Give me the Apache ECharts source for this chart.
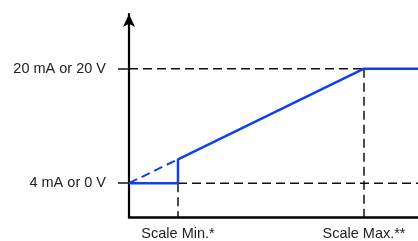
<!DOCTYPE html>
<html>
<head>
<meta charset="utf-8">
<script src="https://cdn.jsdelivr.net/npm/echarts@6/dist/echarts.min.js"></script>
<style>
  html, body { margin: 0; padding: 0; background: #fff; }
  #chart { width: 418px; height: 241px; }
</style>
</head>
<body>
<div id="chart"></div>
<script>
// levels on the y axis (mA-like units), positions on x in plain units
var levelLow = 4
var levelHigh = 20
var levelAtScaleMin = 7.34
var scaleMin = 49
var scaleMax = 235
var xEnd = 289
var yBottom = -0.73
var yTop = 27.65

var yTickValues = [levelLow, levelHigh]
var yTickLabels = ['4 mA or 0 V', '20 mA or 20 V']
var xTickValues = [scaleMin, scaleMax]
var xTickLabels = ['Scale Min.*', 'Scale Max.**']

// blue output curve
var outputLine = [[0, levelLow], [scaleMin, levelLow], [scaleMin, levelAtScaleMin], [scaleMax, levelHigh], [xEnd, levelHigh]]
var outputExtension = [[0, levelLow], [scaleMin, levelAtScaleMin]]

// black dashed guides
var guideHigh = [[0, levelHigh], [scaleMax, levelHigh]]
var guideLow = [[scaleMin, levelLow], [xEnd, levelLow]]
var guideMin = [[scaleMin, levelLow], [scaleMin, yBottom]]
var guideMax = [[scaleMax, levelHigh], [scaleMax, yBottom]]

var chart = echarts.init(document.getElementById('chart'))
var font = 'Liberation Sans, Arial, Helvetica, sans-serif'
var blue = '#1040ee'

function dashed(data) {
  return {
    type: 'line',
    data: data,
    symbol: 'none',
    silent: true,
    z: 1,
    lineStyle: { color: '#111', width: 1.5, type: [9, 5] }
  }
}

var option = {
  animation: false,
  grid: { left: 129, right: 0, top: 14, bottom: 23 },
  xAxis: {
    type: 'value',
    min: 0,
    max: xEnd,
    axisLine: { onZero: false, lineStyle: { color: '#000', width: 2.5 } },
    axisTick: { show: false },
    splitLine: { show: false },
    axisLabel: {
      customValues: xTickValues,
      formatter: function (v) { return xTickLabels[xTickValues.indexOf(v)] },
      color: '#222',
      fontSize: 14.5,
      fontFamily: font,
      margin: 9
    }
  },
  yAxis: {
    type: 'value',
    min: yBottom,
    max: yTop,
    axisLine: {
      show: true,
      onZero: false,
      symbol: ['none', 'arrow'],
      symbolSize: [9, 13],
      lineStyle: { color: '#000', width: 2.2 }
    },
    axisTick: {
      show: true,
      customValues: yTickValues,
      length: 11,
      lineStyle: { color: '#111', width: 1.5 }
    },
    splitLine: { show: false },
    axisLabel: {
      customValues: yTickValues,
      formatter: function (v) { return yTickLabels[yTickValues.indexOf(v)] },
      color: '#222',
      fontSize: 14.5,
      fontFamily: font,
      margin: 23
    }
  },
  series: [
    dashed(guideHigh),
    dashed(guideLow),
    dashed(guideMin),
    dashed(guideMax),
    {
      type: 'line',
      data: outputExtension,
      symbol: 'none',
      z: 2,
      lineStyle: { color: blue, width: 2, type: [9, 5] }
    },
    {
      type: 'line',
      data: outputLine,
      symbol: 'none',
      z: 3,
      lineStyle: { color: blue, width: 2.5 }
    }
  ]
}

chart.setOption(option)
</script>
</body>
</html>
